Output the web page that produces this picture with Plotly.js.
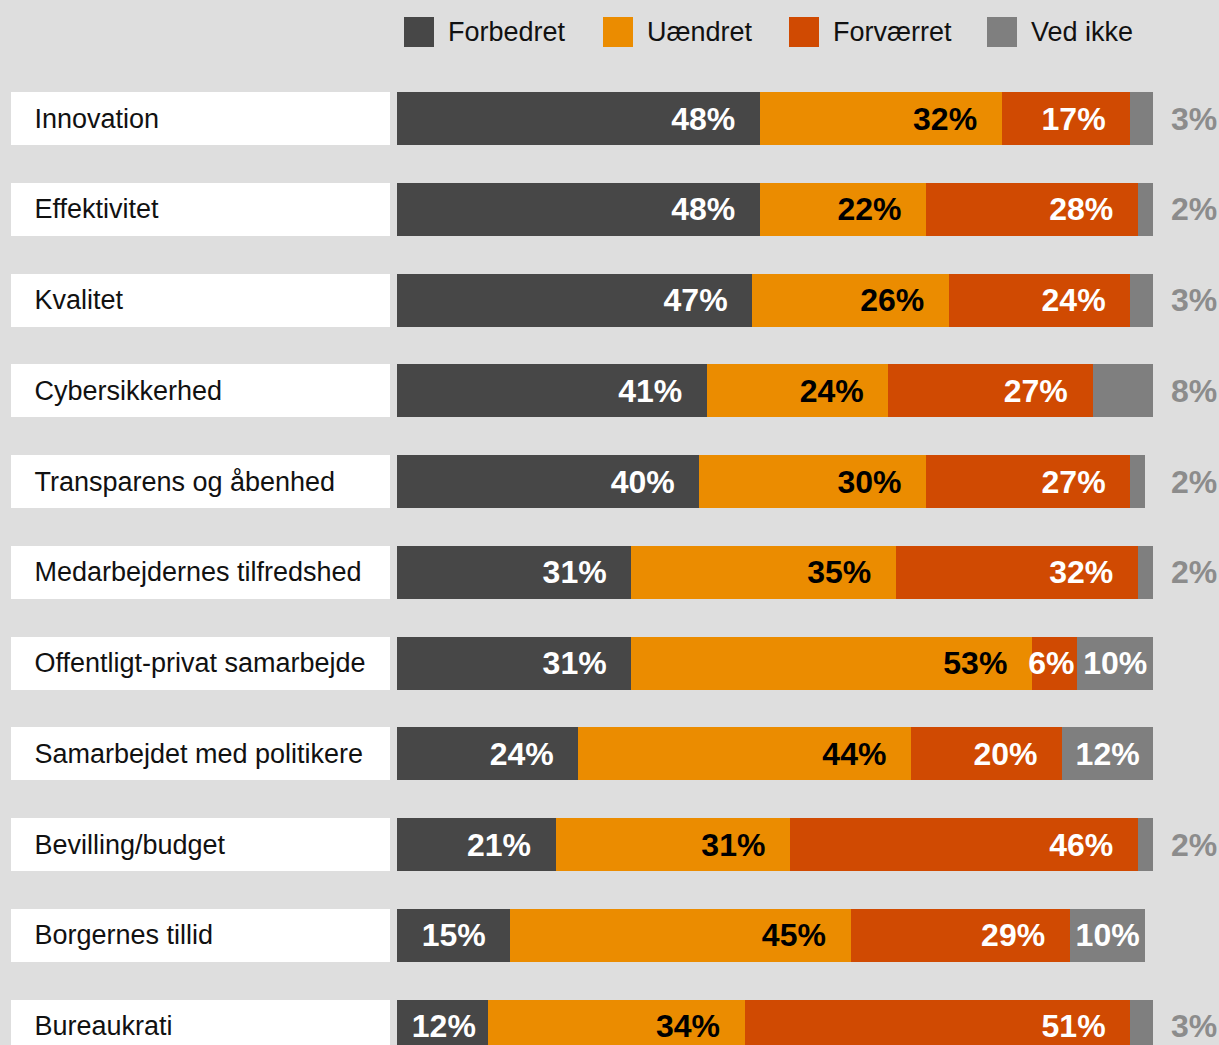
<!DOCTYPE html>
<html>
<head>
<meta charset="utf-8">
<script src="https://cdn.plot.ly/plotly-3.0.1.min.js"></script>
<style>
  html, body { margin: 0; padding: 0; background: #dedede; }
  #chart { width: 1219px; height: 1045px; }
</style>
</head>
<body>
<div id="chart"></div>
<script>
// ---- Data ----
const categories = [
  'Innovation',
  'Effektivitet',
  'Kvalitet',
  'Cybersikkerhed',
  'Transparens og åbenhed',
  'Medarbejdernes tilfredshed',
  'Offentligt-privat samarbejde',
  'Samarbejdet med politikere',
  'Bevilling/budget',
  'Borgernes tillid',
  'Bureaukrati'
];
const forbedret  = [48, 48, 47, 41, 40, 31, 31, 24, 21, 15, 12];
const uaendret   = [32, 22, 26, 24, 30, 35, 53, 44, 31, 45, 34];
const forvaerret = [17, 28, 24, 27, 27, 32,  6, 20, 46, 29, 51];
const vedIkke    = [ 3,  2,  3,  8,  2,  2, 10, 12,  2, 10,  3];
const seriesNames = ['Forbedret', 'Uændret', 'Forværret', 'Ved ikke'];

// ---- Style ----
const colors = ['#474747', '#eb8c00', '#d04a02', '#7f7f7f'];
const textColors = ['#ffffff', '#000000', '#ffffff', '#ffffff'];
const FONT = 'Liberation Sans, Arial, Helvetica, sans-serif';
const W = 1219, H = 1045;
const NB = '\u00A0', TH = '\u2009';

function barLabel(v) {
  if (v >= 15) return v + '%' + NB + TH + TH;
  if (v >= 10) return v + '%' + NB;
  return v + '%';
}

const seriesValues = [forbedret, uaendret, forvaerret, vedIkke];
const traces = [];

// label boxes (white) on a separate x axis
traces.push({
  type: 'bar',
  orientation: 'h',
  y: categories,
  x: categories.map(() => 1),
  xaxis: 'x2',
  yaxis: 'y',
  marker: { color: '#ffffff', line: { width: 0 } },
  text: categories.map(c => NB + NB + TH + c),
  textposition: 'inside',
  insidetextanchor: 'start',
  textangle: 0,
  constraintext: 'none',
  insidetextfont: { family: FONT, size: 27, color: '#111111' },
  hoverinfo: 'skip',
  showlegend: false
});

seriesValues.forEach((vals, i) => {
  const isLast = i === 3;
  traces.push({
    type: 'bar',
    orientation: 'h',
    name: seriesNames[i],
    y: categories,
    x: vals,
    xaxis: 'x',
    yaxis: 'y',
    marker: { color: colors[i], line: { width: 0 } },
    text: vals.map(v => isLast ? (v >= 10 ? v + '%' : '') : barLabel(v)),
    textposition: 'inside',
    insidetextanchor: isLast ? 'middle' : 'end',
    textangle: 0,
    constraintext: 'none',
    cliponaxis: false,
    insidetextfont: { family: FONT, size: 32, color: textColors[i], weight: 'bold' },
    hoverinfo: 'skip',
    showlegend: false
  });
});

// outside labels for small "Ved ikke" values
const annotations = [];
vedIkke.forEach((v, k) => {
  if (v < 10) {
    annotations.push({
      xref: 'paper', yref: 'y',
      x: 1, y: categories[k],
      xanchor: 'right', yanchor: 'middle',
      text: v + '%',
      showarrow: false,
      font: { family: FONT, size: 32, color: '#8c8c8c', weight: 'bold' }
    });
  }
});

// manual legend
const shapes = [];
const legendX = [404, 603, 789, 987];
const legendY = 32, sq = 30;
seriesNames.forEach((name, i) => {
  shapes.push({
    type: 'rect', xref: 'paper', yref: 'paper', layer: 'above',
    x0: legendX[i] / W, x1: (legendX[i] + sq) / W,
    y0: 1 - (legendY + sq / 2) / H, y1: 1 - (legendY - sq / 2) / H,
    fillcolor: colors[i], line: { width: 0 }
  });
  annotations.push({
    xref: 'paper', yref: 'paper',
    x: (legendX[i] + sq + 12) / W, y: 1 - legendY / H,
    xanchor: 'left', yanchor: 'middle',
    text: name, showarrow: false,
    font: { family: FONT, size: 27, color: '#111111' }
  });
});

const rowPitch = 90.75, firstCenter = 118.5;
const layout = {
  width: W, height: H,
  margin: { l: 0, r: 0, t: 0, b: 0, pad: 0 },
  paper_bgcolor: '#dedede',
  plot_bgcolor: 'rgba(0,0,0,0)',
  barmode: 'stack',
  bargap: 1 - 53 / rowPitch,
  showlegend: false,
  xaxis: { domain: [397 / W, 1153 / W], range: [0, 100], visible: false, fixedrange: true },
  xaxis2: { domain: [11 / W, 390 / W], range: [0, 1], visible: false, anchor: 'y', fixedrange: true },
  yaxis: {
    type: 'category',
    range: [(H - firstCenter) / rowPitch, -firstCenter / rowPitch],
    visible: false, fixedrange: true
  },
  shapes: shapes,
  annotations: annotations
};

Plotly.newPlot('chart', traces, layout, { displayModeBar: false, staticPlot: true });
</script>
</body>
</html>
